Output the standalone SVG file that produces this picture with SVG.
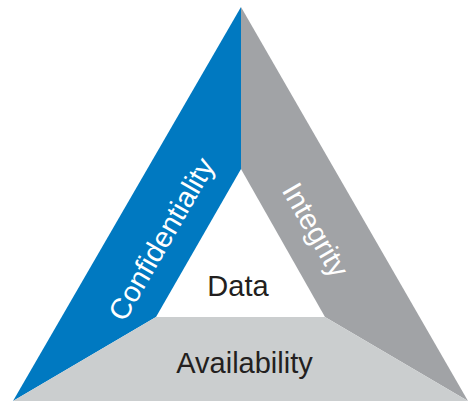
<svg xmlns="http://www.w3.org/2000/svg" width="472" height="405" viewBox="0 0 472 405">
<style>
text{font-family:"Liberation Sans",Arial,sans-serif;font-size:29px;text-anchor:middle}
.w{fill:#ffffff}
.d{fill:#231f20}
</style>
<rect width="472" height="405" fill="#ffffff"/>
<g id="confidentiality">
<polygon points="241,7 241,169 156,317 13,401" fill="#0079c1"/>
<text class="w" transform="translate(170,244) rotate(-60)">Confidentiality</text>
</g>
<g id="integrity">
<polygon points="241,7 468,401 325,317 241,169" fill="#a1a3a6"/>
<text class="w" transform="translate(307,235) rotate(60)">Integrity</text>
</g>
<g id="availability">
<polygon points="13,401 156,317 325,317 468,401" fill="#cbcecf"/>
<text class="d" x="244.5" y="373">Availability</text>
</g>
<g id="data">
<text class="d" x="238" y="296">Data</text>
</g>
</svg>
